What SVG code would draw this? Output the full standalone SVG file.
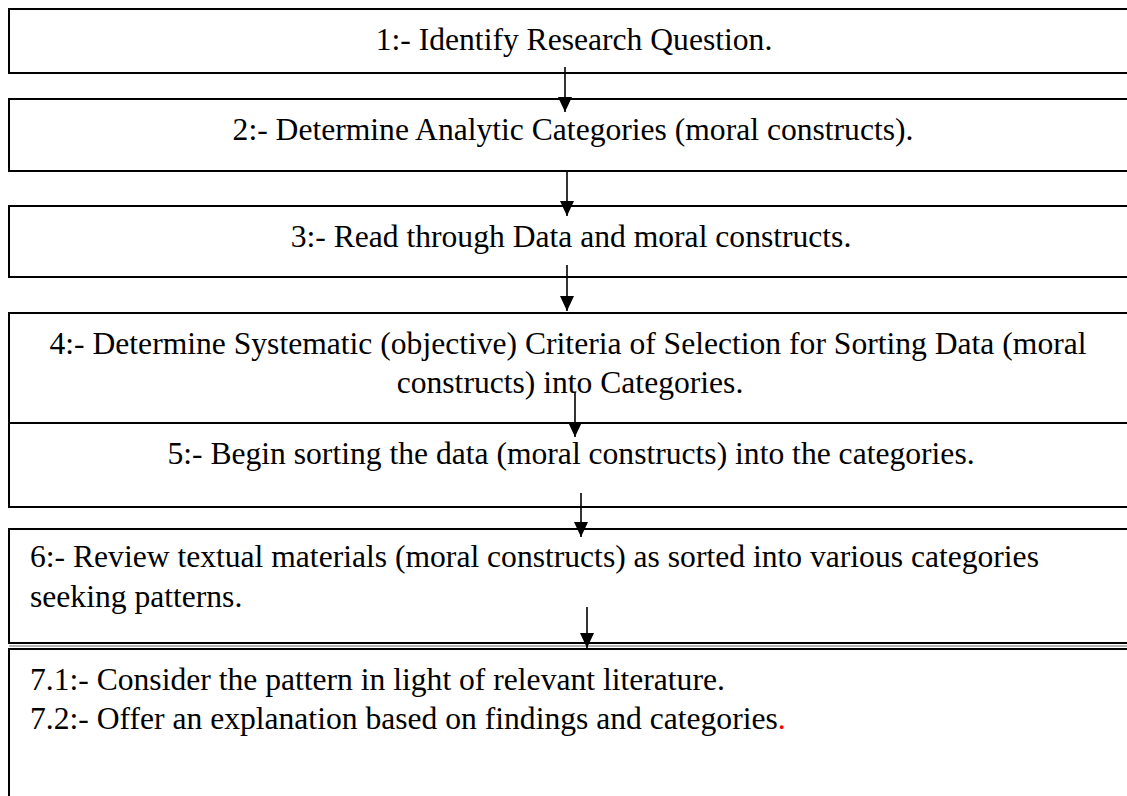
<svg xmlns="http://www.w3.org/2000/svg" width="1127" height="796" viewBox="0 0 1127 796">
<style>
.box{fill:#fff;stroke:#000;stroke-width:2}
.t{font-family:'Liberation Serif','Times New Roman',serif;font-size:31.6px;fill:#000}
.c{text-anchor:middle}
.conn{stroke:#000;stroke-width:1.6;fill:none;marker-end:url(#ah)}
</style>
<defs>
<marker id="ah" viewBox="0 0 15 14" refX="15" refY="7" markerWidth="15" markerHeight="14" markerUnits="userSpaceOnUse" orient="auto">
<path d="M0,0 L15,7 L0,14 z" fill="#000"/>
</marker>
</defs>
<rect width="1127" height="796" fill="#fff"/>
<g id="n1"><rect class="box" x="9" y="9" width="1130" height="64"/><text class="t c" x="574" y="49.5">1:- Identify Research Question.</text></g>
<g id="n2"><rect class="box" x="9" y="99" width="1130" height="72"/><text class="t c" x="573" y="139.5">2:- Determine Analytic Categories (moral constructs).</text></g>
<g id="n3"><rect class="box" x="9" y="206" width="1130" height="71"/><text class="t c" x="571" y="246.5">3:- Read through Data and moral constructs.</text></g>
<g id="n4"><rect class="box" x="9" y="313" width="1130" height="110"/><text class="t c" x="568" y="353.5">4:- Determine Systematic (objective) Criteria of Selection for Sorting Data (moral</text><text class="t c" x="570" y="393">constructs) into Categories.</text></g>
<g id="n5"><rect class="box" x="9" y="423" width="1130" height="84"/><text class="t c" x="571" y="463.5">5:- Begin sorting the data (moral constructs) into the categories.</text></g>
<g id="n6"><rect class="box" x="9" y="529" width="1130" height="114"/><text class="t" x="30" y="567">6:- Review textual materials (moral constructs) as sorted into various categories</text><text class="t" x="30" y="606.5">seeking patterns.</text></g>
<g id="n7"><line x1="9" y1="646" x2="1127" y2="646" stroke="#999" stroke-width="1.5"/><rect class="box" x="9" y="649" width="1130" height="160"/><text class="t" x="30" y="689.5">7.1:- Consider the pattern in light of relevant literature.</text><text class="t" x="30" y="728.5">7.2:- Offer an explanation based on findings and categories<tspan fill="#f00">.</tspan></text></g>
<g id="connectors">
<line class="conn" x1="565" y1="67" x2="565" y2="112"/>
<line class="conn" x1="567" y1="171" x2="567" y2="216"/>
<line class="conn" x1="567" y1="265" x2="567" y2="311"/>
<line class="conn" x1="575" y1="392" x2="575" y2="437"/>
<line class="conn" x1="581" y1="493" x2="581" y2="537"/>
<line class="conn" x1="587" y1="607" x2="587" y2="648"/>
</g>
</svg>
